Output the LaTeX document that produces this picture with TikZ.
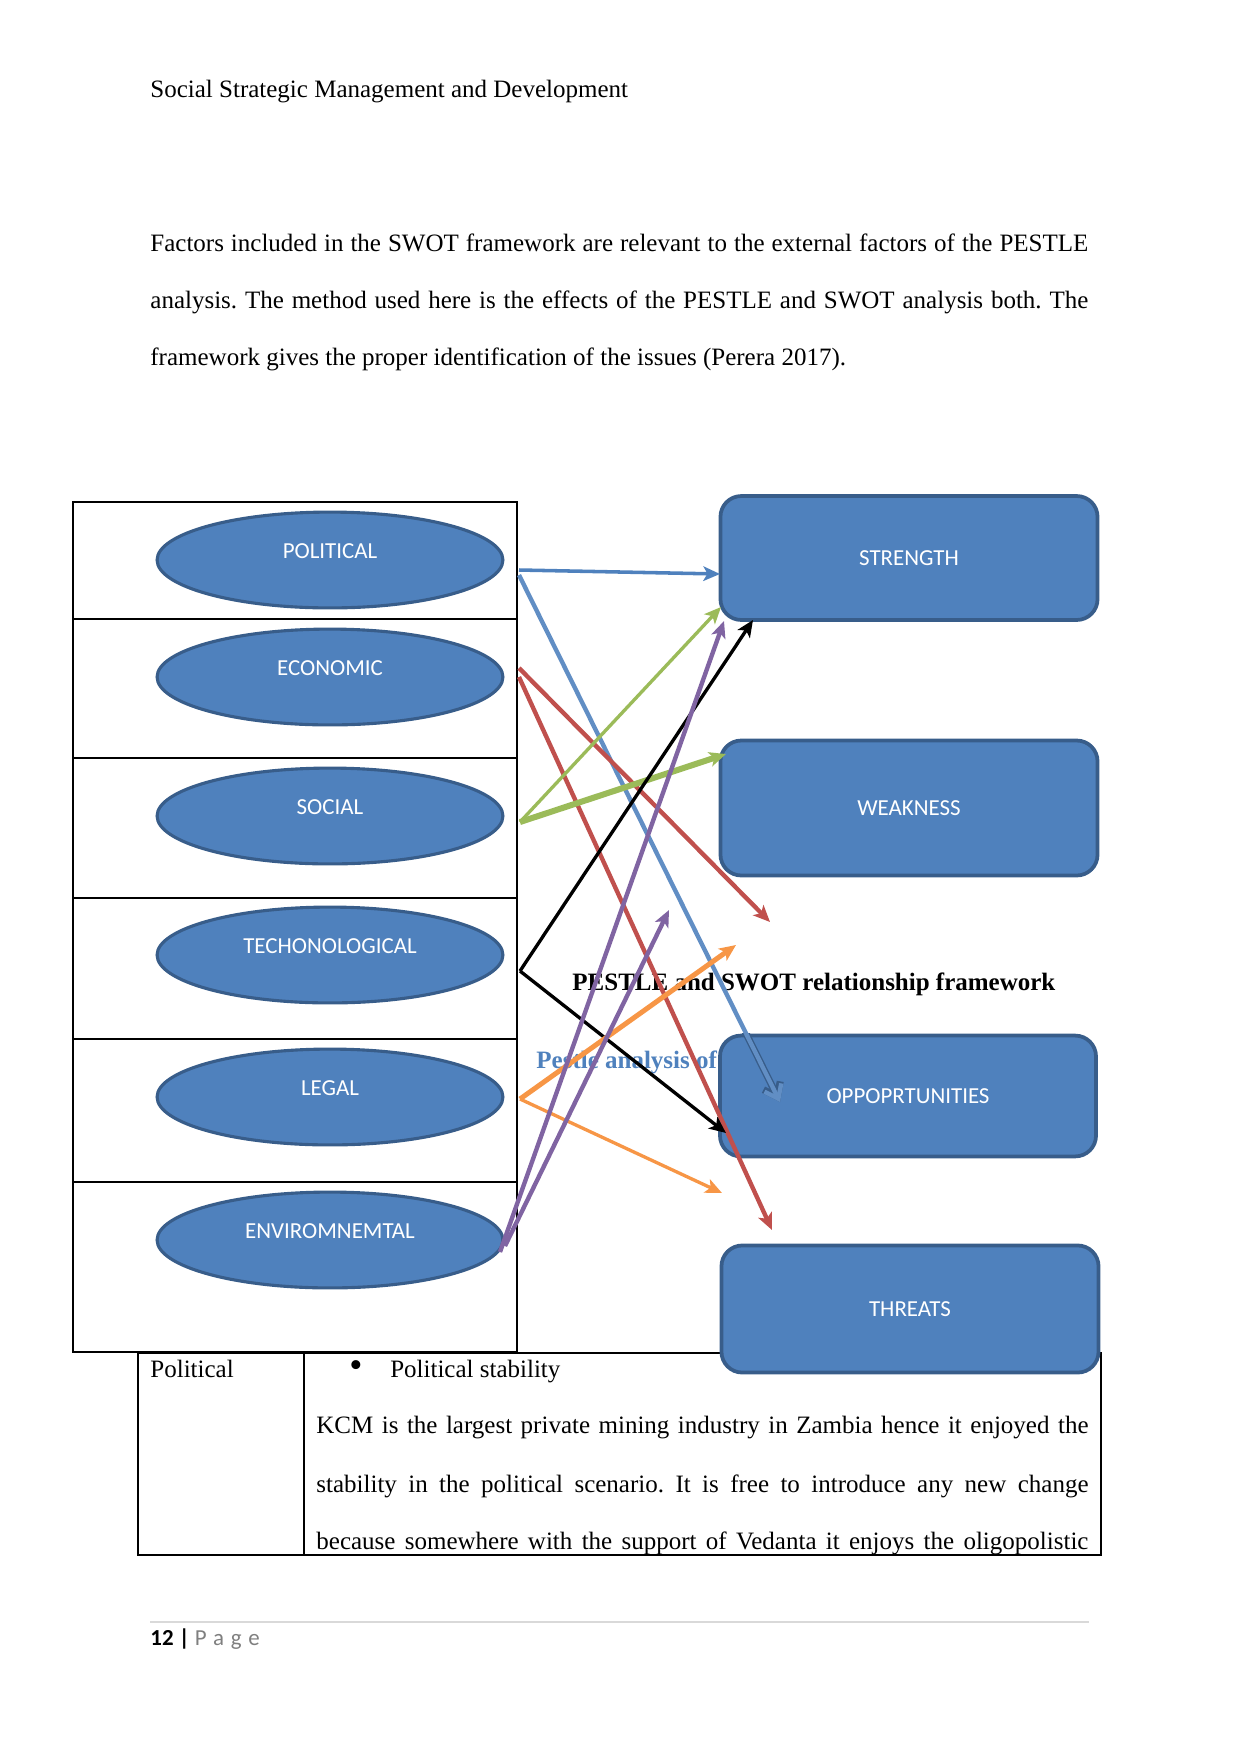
\documentclass[tikz,border=0pt]{standalone}
\usepackage{fontspec}
\setmainfont{Liberation Serif}
\newfontfamily\calibri{Carlito}
\usetikzlibrary{shapes.geometric,arrows.meta}
\definecolor{accent}{RGB}{79,129,189}
\definecolor{accentdark}{RGB}{56,93,138}
\definecolor{redarr}{RGB}{192,80,77}
\definecolor{greenarr}{RGB}{155,187,89}
\definecolor{purplearr}{RGB}{128,100,162}
\definecolor{orangearr}{RGB}{247,150,70}
\definecolor{pagegray}{RGB}{127,127,127}
\frenchspacing
\begin{document}
\begin{tikzpicture}[x=0.48pt,y=-0.48pt,
  body/.style={font=\fontsize{12}{14}\selectfont,inner sep=0pt,anchor=base west},
  factor/.style={ellipse,draw=accentdark,line width=1.5pt,fill=accent,minimum width=166pt,minimum height=46pt,inner sep=0pt,text=white,font=\calibri\fontsize{11}{13}\selectfont,text height=4pt,text depth=5pt},
  swot/.style={rectangle,rounded corners=10pt,draw=accentdark,line width=1.8pt,fill=accent,minimum width=181pt,text=white,font=\calibri\fontsize{11}{13}\selectfont},
  link/.style={line width=2.1pt,-{Stealth[length=8pt,width=7pt,inset=2pt]}}]
  \useasboundingbox (0,0) rectangle (1241,1754);
  \node[body] (head) at (150,97) {Social Strategic Management and Development};
  \node[body] (par1) at (150,251) {\makebox[450.2pt][s]{Factors included in the SWOT framework are relevant to the external factors of the PESTLE}};
  \node[body] (par2) at (150,308) {\makebox[450.2pt][s]{analysis. The method used here is the effects of the PESTLE and SWOT analysis both. The}};
  \node[body] (par3) at (150,365) {framework gives the proper identification of the issues (Perera 2017).};
  \draw[line width=0.8pt] (73,502) rectangle (517,1352);
  \foreach \y in {619,758,898,1039,1182} \draw[line width=0.8pt] (73,\y) -- (517,\y);
  \draw[line width=0.8pt] (138,1353) rectangle (1101,1555) (304,1353) -- (304,1555);
  \node[factor] (pol) at (330,560) {POLITICAL};
  \node[factor] (eco) at (330,677) {ECONOMIC};
  \node[factor] (soc) at (330,816) {SOCIAL};
  \node[factor] (tec) at (330,955) {TECHONOLOGICAL};
  \node[factor] (leg) at (330,1097) {LEGAL};
  \node[factor] (env) at (330,1240) {ENVIROMNEMTAL};
  \node[body,font=\fontsize{12}{14}\selectfont\bfseries] (title) at (572,990) {PESTLE and SWOT relationship framework};
  \node[body,font=\fontsize{12}{14}\selectfont\bfseries,text=accent] (sub) at (536,1068) {Pestle analysis of};
  \node[swot,minimum height=59.5pt] (str) at (909,558) {STRENGTH};
  \node[swot,minimum height=64.8pt] (wea) at (909,808) {WEAKNESS};
  \node[swot,minimum width=180.5pt,minimum height=58pt] (opp) at (908,1096) {OPPOPRTUNITIES};
  \node[swot,minimum height=61pt] (thr) at (910,1309) {THREATS};
  \coordinate (polA) at (519,570); \coordinate (polB) at (519,575);
  \coordinate (ecoA) at (519,668); \coordinate (ecoB) at (519,677);
  \coordinate (socO) at (520,822); \coordinate (tecO) at (520,971);
  \coordinate (legO) at (520,1099);
  \coordinate (envA) at (500,1252); \coordinate (envB) at (505,1246);
  \coordinate (strP) at (720,574); \coordinate (strS) at (721,607);
  \coordinate (strT) at (753,620); \coordinate (strE) at (724,621);
  \coordinate (weaS) at (726,754); \coordinate (weaE) at (770,922);
  \coordinate (weaV) at (669,910); \coordinate (oppP) at (780,1102);
  \coordinate (oppT) at (726,1133); \coordinate (oppL) at (736,945);
  \coordinate (thrE) at (772,1230); \coordinate (thrL) at (722,1193);
  \begin{scope}
    \clip (opp.north west) rectangle (opp.south east);
    \draw[accentdark,line width=3.4pt,-{Straight Barb[length=6pt,width=9pt,line width=3.4pt]}] (polB) -- (oppP);
  \end{scope}
  \draw[accent!90!white,line width=2.1pt,-{Straight Barb[length=6pt,width=9pt,line width=2.1pt]}] (polB) -- (oppP);
  \draw[link,accent,line width=1.7pt] (polA) -- (strP);
  \draw[link,redarr] (ecoA) -- (weaE);
  \draw[link,redarr] (ecoB) -- (thrE);
  \draw[link,greenarr,line width=1.6pt] (socO) -- (strS);
  \draw[link,greenarr,line width=2.9pt] (socO) -- (weaS);
  \draw[link,black,line width=1.6pt] (tecO) -- (strT);
  \draw[link,black,line width=1.6pt] (tecO) -- (oppT);
  \draw[link,orangearr,line width=2.4pt] (legO) -- (oppL);
  \draw[link,orangearr,line width=1.6pt] (legO) -- (thrL);
  \draw[link,purplearr] (envA) -- (strE);
  \draw[link,purplearr] (envB) -- (weaV);
  \node[body] (pcell) at (150,1377) {Political};
  \node[body] (item) at (349,1377) {\makebox[19.6pt][l]{\fontsize{18}{18}\selectfont\textbullet}Political stability};
  \node[body] (kcm1) at (316,1433) {\makebox[370.6pt][s]{KCM is the largest private mining industry in Zambia hence it enjoyed the}};
  \node[body] (kcm2) at (316,1492) {\makebox[370.6pt][s]{stability in the political scenario. It is free to introduce any new change}};
  \node[body] (kcm3) at (316,1549) {\makebox[370.6pt][s]{because somewhere with the support of Vedanta it enjoys the oligopolistic}};
  \draw[black!15,line width=0.6pt] (150,1622) -- (1089,1622);
  \node[body,font=\calibri\fontsize{11}{13}\selectfont] (foot) at (150,1645) {\textbf{12 |} \textcolor{pagegray}{\addfontfeature{LetterSpace=30}Page}};
\end{tikzpicture}
\end{document}
